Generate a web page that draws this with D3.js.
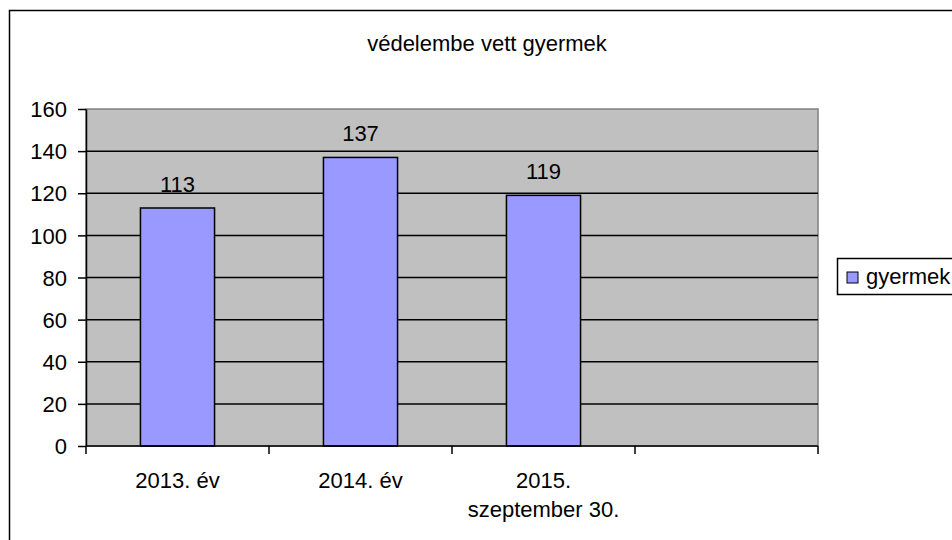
<!DOCTYPE html>
<html>
<head>
<meta charset="UTF-8">
<title>védelembe vett gyermek</title>
<script src="https://d3js.org/d3.v7.min.js"></script>
<style>
  body { margin: 0; background: #fff; }
  text { font-family: "Liberation Sans", Arial, sans-serif; fill: #000; }
</style>
</head>
<body>
<div id="chart"></div>
<script>
// data
let categories = [["2013. év"], ["2014. év"], ["2015.", "szeptember 30."], [""]];
let values = [113, 137, 119, null];
let seriesName = "gyermek";
let yTicks = [0, 20, 40, 60, 80, 100, 120, 140, 160];
let title = "védelembe vett gyermek";

const W = 952, H = 540;
const plot = {left: 86, top: 109, right: 818, bottom: 446};
const fs = "22px";

const svg = d3.select("#chart").append("svg").attr("width", W).attr("height", H);

// outer frame (runs off the right and bottom of the picture)
svg.append("rect").attr("x", 9.5).attr("y", 10.5).attr("width", 960).attr("height", 560)
  .attr("fill", "#fff").attr("stroke", "#000").attr("stroke-width", 1.5);

svg.append("text").attr("x", 487).attr("y", 51).attr("text-anchor", "middle")
  .style("font-size", fs).text(title);

const x = d3.scaleBand().domain(d3.range(categories.length)).range([plot.left, plot.right]).paddingInner(0).paddingOuter(0);
const y = d3.scaleLinear().domain([0, 160]).range([plot.bottom, plot.top]);

// plot area
svg.append("rect").attr("x", plot.left).attr("y", plot.top)
  .attr("width", plot.right - plot.left).attr("height", plot.bottom - plot.top)
  .attr("fill", "#c0c0c0").attr("stroke", "#808080").attr("stroke-width", 1.5);

// gridlines
svg.append("g").selectAll("line").data(yTicks.filter(d => d > 0 && d < 160)).join("line")
  .attr("x1", plot.left).attr("x2", plot.right)
  .attr("y1", d => y(d)).attr("y2", d => y(d))
  .attr("stroke", "#000").attr("stroke-width", 1.5);

// bars
const bw = x.bandwidth() * 0.405;
svg.append("g").selectAll("rect").data(values.map((v, i) => ({v, i})).filter(d => d.v != null)).join("rect")
  .attr("x", d => x(d.i) + (x.bandwidth() - bw) / 2)
  .attr("y", d => y(d.v))
  .attr("width", bw)
  .attr("height", d => y(0) - y(d.v))
  .attr("fill", "#9999ff").attr("stroke", "#000").attr("stroke-width", 1.5);

// value labels
svg.append("g").selectAll("text").data(values.map((v, i) => ({v, i})).filter(d => d.v != null)).join("text")
  .attr("x", d => x(d.i) + x.bandwidth() / 2)
  .attr("y", d => y(d.v) - 16)
  .attr("text-anchor", "middle").style("font-size", fs)
  .text(d => d.v);

// y axis
const yAxis = svg.append("g").attr("transform", `translate(${plot.left},0)`)
  .call(d3.axisLeft(y).tickValues(yTicks).tickSize(8).tickPadding(11).tickSizeOuter(0));
yAxis.select(".domain").attr("stroke", "#000").attr("stroke-width", 1.5);
yAxis.selectAll(".tick line").attr("stroke", "#000").attr("stroke-width", 1.5);
yAxis.selectAll(".tick text").style("font-size", fs).attr("font-family", null).attr("dy", "0.35em");

// x axis
const xAxis = svg.append("g").attr("transform", `translate(0,${plot.bottom})`);
xAxis.append("line").attr("x1", plot.left).attr("x2", plot.right).attr("y1", 0).attr("y2", 0)
  .attr("stroke", "#000").attr("stroke-width", 1.5);
const edges = categories.map((c, i) => x(i)).concat([plot.right]);
xAxis.selectAll("line.tk").data(edges).join("line").attr("class", "tk")
  .attr("x1", d => d).attr("x2", d => d).attr("y1", 0).attr("y2", 8)
  .attr("stroke", "#000").attr("stroke-width", 1.5);
xAxis.selectAll("text").data(categories).join("text")
  .attr("x", (d, i) => x(i) + x.bandwidth() / 2)
  .attr("y", 42)
  .attr("text-anchor", "middle").style("font-size", fs)
  .selectAll("tspan").data(d => d).join("tspan")
  .attr("x", function() { return this.parentNode.getAttribute("x"); })
  .attr("dy", (d, i) => i === 0 ? 0 : 29)
  .text(d => d);

// legend
const lg = svg.append("g");
lg.append("rect").attr("x", 837.5).attr("y", 258.5).attr("width", 140).attr("height", 36)
  .attr("fill", "#fff").attr("stroke", "#000").attr("stroke-width", 1.5);
lg.append("rect").attr("x", 847).attr("y", 272).attr("width", 11).attr("height", 11)
  .attr("fill", "#9999ff").attr("stroke", "#000").attr("stroke-width", 1);
lg.append("text").attr("x", 866).attr("y", 284).style("font-size", fs).text(seriesName);
</script>
</body>
</html>
